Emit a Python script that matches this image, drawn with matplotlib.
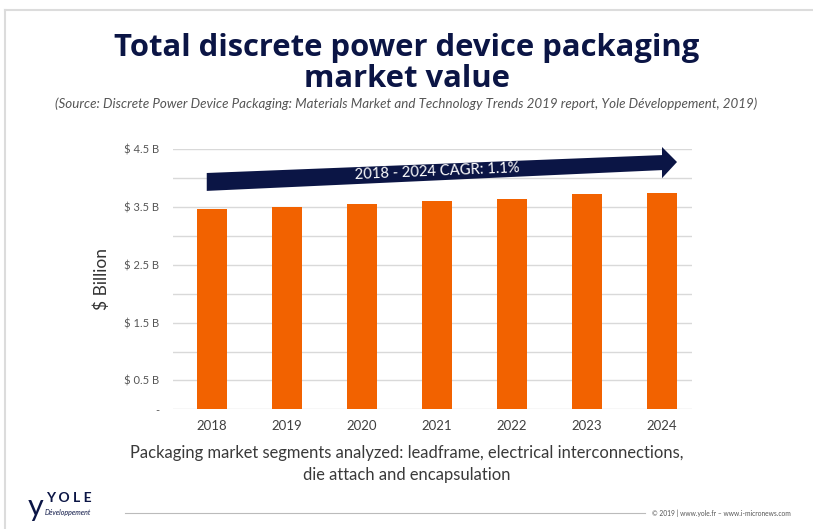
import matplotlib.pyplot as plt
from matplotlib.patches import Polygon
from matplotlib.lines import Line2D

# data
years = ["2018", "2019", "2020", "2021", "2022", "2023", "2024"]
values = [3.46, 3.50, 3.55, 3.61, 3.64, 3.72, 3.75]
tick_vals = [0, 0.5, 1.5, 2.5, 3.5, 4.5]
tick_labels = ["-", "$ 0.5 B", "$ 1.5 B", "$ 2.5 B", "$ 3.5 B", "$ 4.5 B"]
grid_vals = [0.5 * i for i in range(10)]

NAVY = "#0b1545"
ORANGE = "#f26200"
GRID = "#d9d9d9"
FONT = ["Lato", "DejaVu Sans"]

fig = plt.figure(figsize=(8.13, 5.29), dpi=100)
fig.patch.set_facecolor("white")

# frame lines of the slide
fig.add_artist(Line2D([5 / 813, 1], [1 - 10 / 529, 1 - 10 / 529], color="#dcdcdc", lw=1.5))
fig.add_artist(Line2D([5 / 813, 5 / 813], [0, 1 - 10 / 529], color="#dcdcdc", lw=1.5))

# =========================
# TITLE
# =========================
fig.text(0.5, 1 - 48 / 529, "Total discrete power device packaging", ha="center", va="center",
         fontsize=22.3, fontweight="bold", color=NAVY, family=["Open Sans", "DejaVu Sans"])
fig.text(0.5, 1 - 79 / 529, "market value", ha="center", va="center",
         fontsize=22.3, fontweight="bold", color=NAVY, family=["Open Sans", "DejaVu Sans"])
fig.text(0.5, 1 - 104 / 529,
         "(Source: Discrete Power Device Packaging: Materials Market and Technology Trends 2019 report, Yole Développement, 2019)",
         ha="center", va="center", fontsize=9.6, style="italic",
         color="#555555", family=FONT)

# =========================
# BARS
# =========================
ax = fig.add_axes([173 / 813, 1 - 409.3 / 529, 519 / 813, 260 / 529])
x = list(range(len(years)))
ax.bar(x, values, width=0.41, color=ORANGE, zorder=3)

for g in grid_vals:
    ax.axhline(g, color=GRID, lw=1, zorder=1)

ax.set_xlim(-0.52, 6.4)
ax.set_ylim(0, 4.5)
ax.set_xticks(x)
ax.set_xticklabels(years, fontsize=9.5, color="#404040", family=FONT)
ax.set_yticks(tick_vals)
ax.set_yticklabels(tick_labels, fontsize=8, color="#555555", family=FONT)
ax.tick_params(length=0, pad=10)
ax.tick_params(axis="x", pad=8)
for s in ax.spines.values():
    s.set_visible(False)

ax.set_ylabel("$ Billion", fontsize=12.5, color="#333333", family=FONT, labelpad=10)

# CAGR arrow (decoration, in data units of the axes)
arrow = Polygon([(-0.07, 3.78), (-0.07, 4.09), (6.0, 4.40), (6.0, 4.54),
                 (6.2, 4.28), (6.0, 4.00), (6.0, 4.14)],
                closed=True, facecolor=NAVY, edgecolor="none", zorder=4, clip_on=False)
ax.add_patch(arrow)
ax.text(3.0, 4.12, "2018 - 2024 CAGR: 1.1%", ha="center", va="center", rotation=2.4,
        color="white", fontsize=10.6, family=FONT, zorder=5)

# =========================
# FOOTNOTE
# =========================
fig.text(0.5, 1 - 453 / 529, "Packaging market segments analyzed: leadframe, electrical interconnections,",
         ha="center", va="center", fontsize=11.9, color="#3a3a3a", family=FONT)
fig.text(0.5, 1 - 475 / 529, "die attach and encapsulation",
         ha="center", va="center", fontsize=11.9, color="#3a3a3a", family=FONT)

# footer
fig.text(46 / 813, 1 - 498 / 529, "Y O L E", ha="left", va="center", fontsize=10,
         fontweight="bold", color=NAVY, family=FONT)
fig.text(28 / 813, 1 - 507 / 529, "y", ha="left", va="center", fontsize=22,
         color=NAVY, family=FONT)
fig.text(45 / 813, 1 - 512 / 529, "Développement", ha="left", va="center", fontsize=5,
         style="italic", color=NAVY, family=FONT)
fig.add_artist(Line2D([125 / 813, 645 / 813], [1 - 513 / 529, 1 - 513 / 529], color="#bbbbbb", lw=0.8))
fig.text(652 / 813, 1 - 513 / 529, "© 2019 | www.yole.fr – www.i-micronews.com", ha="left", va="center",
         fontsize=4.8, color="#555555", family=FONT)

fig.savefig("out.png", dpi=100)
